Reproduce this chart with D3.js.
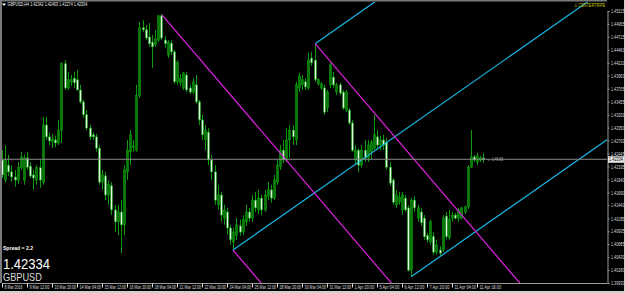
<!DOCTYPE html>
<html><head><meta charset="utf-8">
<script src="https://cdn.jsdelivr.net/npm/d3@7"></script>
<style>html,body{margin:0;padding:0;background:#000;overflow:hidden}text{font-family:"Liberation Sans",Arial,sans-serif}</style>
</head><body>
<svg id="c" width="625" height="293"></svg>
<script>
// ---- data (GBPUSD H4) ----
const openP = [1.4232,1.4193,1.4222,1.4209,1.4199,1.4193,1.4217,1.4193,1.4236,1.4220,1.4203,1.4193,1.4217,1.4189,1.4300,1.4277,1.4267,1.4271,1.4265,1.4290,
1.4419,1.4372,1.4384,1.4391,1.4388,1.4368,1.4345,1.4320,1.4294,1.4281,1.4277,1.4255,1.4189,1.4201,1.4164,1.4182,1.4135,1.4112,1.4131,1.4106,
1.4209,1.4248,1.4257,1.4251,1.4357,1.4489,1.4485,1.4471,1.4461,1.4456,1.4465,1.4512,1.4465,1.4436,1.4459,1.4442,1.4384,1.4382,1.4372,1.4397,
1.4372,1.4364,1.4378,1.4345,1.4310,1.4271,1.4286,1.4232,1.4209,1.4145,1.4164,1.4119,1.4131,1.4100,1.4073,1.4086,1.4104,1.4092,1.4112,1.4131,
1.4119,1.4154,1.4135,1.4158,1.4135,1.4162,1.4174,1.4158,1.4189,1.4220,1.4251,1.4232,1.4271,1.4290,1.4271,1.4372,1.4378,1.4384,1.4372,1.4430,
1.4426,1.4380,1.4372,1.4372,1.4333,1.4378,1.4393,1.4364,1.4378,1.4364,1.4329,1.4329,1.4304,1.4232,1.4251,1.4222,1.4251,1.4236,1.4248,1.4255,
1.4277,1.4261,1.4271,1.4267,1.4218,1.4193,1.4145,1.4150,1.4135,1.4158,1.4139,1.4018,1.4154,1.4119,1.4131,1.4119,1.4085,1.4073,1.4083,1.4053,
1.4057,1.4057,1.4123,1.4081,1.4119,1.4125,1.4119,1.4119,1.4131,1.4141,1.4218,1.4238,1.4228,1.4232,1.4236];
const highP = [1.4251,1.4261,1.4242,1.4222,1.4213,1.4228,1.4248,1.4242,1.4248,1.4228,1.4213,1.4222,1.4232,1.4316,1.4316,1.4286,1.4283,1.4279,1.4310,1.4422,
1.4426,1.4403,1.4397,1.4403,1.4407,1.4378,1.4349,1.4329,1.4300,1.4286,1.4283,1.4261,1.4213,1.4209,1.4193,1.4189,1.4145,1.4145,1.4154,1.4222,
1.4271,1.4290,1.4271,1.4378,1.4500,1.4504,1.4494,1.4498,1.4475,1.4485,1.4514,1.4516,1.4473,1.4465,1.4465,1.4446,1.4426,1.4399,1.4403,1.4403,
1.4378,1.4391,1.4397,1.4349,1.4320,1.4300,1.4294,1.4242,1.4222,1.4184,1.4170,1.4145,1.4139,1.4106,1.4100,1.4119,1.4116,1.4125,1.4145,1.4139,
1.4164,1.4170,1.4174,1.4164,1.4174,1.4189,1.4184,1.4203,1.4232,1.4261,1.4271,1.4294,1.4300,1.4300,1.4384,1.4401,1.4397,1.4391,1.4440,1.4442,
1.4458,1.4391,1.4384,1.4378,1.4368,1.4422,1.4403,1.4382,1.4382,1.4368,1.4368,1.4333,1.4310,1.4261,1.4255,1.4261,1.4271,1.4271,1.4271,1.4320,
1.4290,1.4279,1.4281,1.4275,1.4228,1.4197,1.4174,1.4170,1.4170,1.4164,1.4145,1.4158,1.4162,1.4145,1.4139,1.4125,1.4090,1.4116,1.4092,1.4077,
1.4065,1.4125,1.4131,1.4135,1.4131,1.4129,1.4139,1.4141,1.4143,1.4222,1.4290,1.4242,1.4246,1.4240,1.4246];
const lowP = [1.4197,1.4188,1.4201,1.4189,1.4180,1.4185,1.4213,1.4184,1.4213,1.4197,1.4174,1.4184,1.4178,1.4184,1.4271,1.4261,1.4255,1.4257,1.4261,1.4265,
1.4368,1.4368,1.4376,1.4372,1.4368,1.4341,1.4314,1.4290,1.4271,1.4271,1.4248,1.4184,1.4174,1.4154,1.4145,1.4125,1.4092,1.4086,1.4051,1.4086,
1.4193,1.4222,1.4248,1.4248,1.4353,1.4481,1.4465,1.4452,1.4411,1.4452,1.4461,1.4465,1.4450,1.4430,1.4436,1.4380,1.4378,1.4376,1.4368,1.4364,
1.4360,1.4360,1.4341,1.4300,1.4271,1.4251,1.4222,1.4193,1.4145,1.4135,1.4112,1.4106,1.4086,1.4067,1.4057,1.4077,1.4085,1.4086,1.4104,1.4112,
1.4112,1.4131,1.4127,1.4125,1.4131,1.4154,1.4149,1.4154,1.4184,1.4213,1.4226,1.4228,1.4236,1.4261,1.4261,1.4364,1.4368,1.4368,1.4368,1.4415,
1.4384,1.4376,1.4368,1.4320,1.4325,1.4372,1.4372,1.4358,1.4358,1.4329,1.4325,1.4300,1.4248,1.4222,1.4209,1.4217,1.4228,1.4228,1.4232,1.4251,
1.4251,1.4251,1.4251,1.4213,1.4182,1.4145,1.4139,1.4145,1.4125,1.4131,1.4015,1.4005,1.4131,1.4112,1.4104,1.4077,1.4071,1.4067,1.4048,1.4048,
1.4046,1.4053,1.4077,1.4077,1.4112,1.4116,1.4112,1.4116,1.4127,1.4137,1.4217,1.4228,1.4222,1.4228,1.4226];
const closeP = [1.4203,1.4232,1.4209,1.4199,1.4193,1.4218,1.4238,1.4236,1.4218,1.4201,1.4197,1.4217,1.4193,1.4300,1.4277,1.4269,1.4273,1.4265,1.4290,1.4419,
1.4372,1.4388,1.4388,1.4382,1.4368,1.4345,1.4320,1.4294,1.4277,1.4277,1.4255,1.4189,1.4203,1.4164,1.4184,1.4135,1.4112,1.4131,1.4106,1.4213,
1.4251,1.4281,1.4259,1.4357,1.4489,1.4485,1.4469,1.4458,1.4452,1.4467,1.4512,1.4469,1.4458,1.4461,1.4442,1.4384,1.4422,1.4391,1.4401,1.4368,
1.4364,1.4384,1.4345,1.4310,1.4281,1.4290,1.4232,1.4209,1.4154,1.4164,1.4125,1.4135,1.4100,1.4077,1.4092,1.4106,1.4092,1.4116,1.4131,1.4119,
1.4154,1.4139,1.4158,1.4135,1.4164,1.4174,1.4158,1.4193,1.4222,1.4251,1.4232,1.4271,1.4290,1.4277,1.4378,1.4395,1.4388,1.4374,1.4426,1.4421,
1.4388,1.4388,1.4380,1.4325,1.4364,1.4417,1.4378,1.4378,1.4362,1.4333,1.4364,1.4304,1.4251,1.4251,1.4222,1.4251,1.4236,1.4261,1.4267,1.4281,
1.4261,1.4271,1.4261,1.4218,1.4187,1.4150,1.4164,1.4160,1.4164,1.4135,1.4018,1.4154,1.4139,1.4139,1.4110,1.4083,1.4077,1.4112,1.4053,1.4067,
1.4051,1.4119,1.4083,1.4116,1.4125,1.4119,1.4135,1.4139,1.4141,1.4218,1.4238,1.4232,1.4240,1.4236,1.42334];
const priceTicks = [1.45215,1.44965,1.44715,1.44460,1.44210,1.43960,1.43705,1.43455,1.43200,1.42950,1.42700,1.42445,1.42195,1.41940,1.41690,1.41440,1.41185,1.40935,1.40685,1.40430,1.40180,1.39930];
const dateLabels = ["8 Mar 2016","9 Mar 12:00","10 Mar 20:00","14 Mar 04:00","15 Mar 12:00","16 Mar 20:00","18 Mar 04:00","21 Mar 12:00","22 Mar 20:00","24 Mar 04:00","25 Mar 12:00","28 Mar 20:00","30 Mar 04:00","31 Mar 12:00","1 Apr 20:00","5 Apr 04:00","6 Apr 12:00","7 Apr 20:00","11 Apr 04:00","11 Apr 16:00"];
const dateLabelBars = [0,8,16,24,32,40,48,56,64,72,80,88,96,104,112,120,128,136,144,152];
// channel lines: [bar, price] anchors, slope in price per bar
const cyanAnchors = [[73.9,1.4057],[100.2,1.4458],[130.9,1.4005]];
const cyanSlope = 0.000425;
const magentaAnchors = [[51.2,1.4514],[73.9,1.4057],[100.2,1.4458]];
const magentaSlope = -0.000710;
const lastPrice = 1.42334;
const header = "GBPUSD,H4  1.42342 1.42403 1.42274 1.42334";
const spreadText = "Spread = 2.2";
const symbol = "GBPUSD";
const warnText = "CENTERTRIPE";
const lineLabel = "\u2190 1.46.66";

// ---- layout ----
const W=625,H=293, L=2, R=607, T=2, B=283;
const svg=d3.select("#c");
svg.append("rect").attr("width",W).attr("height",H).attr("fill","#000");
const x=d3.scaleLinear().domain([0,154]).range([2,483.25]);
const y=d3.scaleLinear().domain([1.39930,1.45215]).range([283,11]);

// squeeze a text horizontally to a target width (about its own x anchor)
function fit(sel,target){
  sel.each(function(){
    const t=d3.select(this), w=this.getComputedTextLength(), tw=(typeof target==="function")?target(this):target;
    const s=Math.min(1,tw/w), x0=+t.attr("x")||0;
    t.attr("transform",`translate(${x0},0) scale(${s},1) translate(${-x0},0)`);
  });
}

svg.append("defs").append("clipPath").attr("id","plot").append("rect")
  .attr("x",L).attr("y",T).attr("width",R-L).attr("height",B-T);
const g=svg.append("g").attr("clip-path","url(#plot)");

const bars=d3.range(openP.length);
const green="#0c9c0c";
g.selectAll("line.w").data(bars).join("line")
  .attr("x1",i=>Math.round(x(i))+0.5).attr("x2",i=>Math.round(x(i))+0.5)
  .attr("y1",i=>y(highP[i])).attr("y2",i=>y(lowP[i]))
  .attr("stroke",green).attr("stroke-width",1);
g.selectAll("rect.b").data(bars).join("rect")
  .attr("x",i=>Math.round(x(i))-0.5).attr("width",2)
  .attr("y",i=>y(Math.max(openP[i],closeP[i])))
  .attr("height",i=>Math.max(1,Math.abs(y(openP[i])-y(closeP[i]))))
  .attr("fill",i=>closeP[i]>=openP[i]?"#087a08":"#dff7df")
  .attr("stroke",green).attr("stroke-width",0.6);

const xEnd=x.invert(R+5);
function drawLines(anchors,slope,color){
  g.selectAll(null).data(anchors).join("line")
   .attr("x1",d=>x(d[0])).attr("y1",d=>y(d[1]))
   .attr("x2",x(xEnd)).attr("y2",d=>y(d[1]+slope*(xEnd-d[0])))
   .attr("stroke",color).attr("stroke-width",1.2);
}
drawLines(cyanAnchors,cyanSlope,"#1ab8e8");
drawLines(magentaAnchors,magentaSlope,"#e020e0");

g.append("line").attr("x1",L).attr("x2",R).attr("y1",y(lastPrice)).attr("y2",y(lastPrice))
  .attr("stroke","#8a8a8a").attr("stroke-width",1);
fit(g.append("text").attr("x",x(154)+4).attr("y",y(lastPrice)+1.8).attr("fill","#aaa")
  .attr("font-size",5).text(lineLabel),16);

// frame
svg.append("rect").attr("x",0).attr("y",0).attr("width",2).attr("height",B).attr("fill","#7a7a7a");
svg.append("rect").attr("x",0).attr("y",0).attr("width",R).attr("height",1.5).attr("fill","#7a7a7a");

// price axis
const ya=svg.append("g").attr("transform",`translate(${R+0.5},0)`)
  .call(d3.axisRight(y).tickValues(priceTicks).tickFormat(d3.format(".5f")).tickSize(2).tickPadding(1.5));
ya.select(".domain").attr("stroke","#9a9a9a");
ya.selectAll(".tick line").attr("stroke","#9a9a9a");
ya.selectAll("text").attr("fill","#ddd").attr("font-size",5).attr("font-family","Liberation Sans, Arial");
fit(ya.selectAll("text"),13.5);
// date axis
const xa=svg.append("g").attr("transform",`translate(0,${B+0.5})`)
  .call(d3.axisBottom(x).tickValues(dateLabelBars).tickFormat((d,i)=>dateLabels[i]).tickSize(4));
xa.select(".domain").attr("stroke","#9a9a9a").attr("d",`M${L},0H${R}`);
xa.selectAll(".tick line").attr("stroke","#ddd");
xa.selectAll("text").attr("fill","#ddd").attr("font-size",5).attr("text-anchor","start")
  .attr("x",2).attr("y",1.8).attr("font-family","Liberation Sans, Arial");
fit(xa.selectAll("text"),el=>el.textContent.length*1.8);

// current price box
svg.append("rect").attr("x",R+1).attr("y",y(lastPrice)-3).attr("width",17).attr("height",6.5).attr("fill","#e8e8e8");
fit(svg.append("text").attr("x",R+2).attr("y",y(lastPrice)+1.8).attr("fill","#000").attr("font-size",5)
  .text(d3.format(".5f")(lastPrice)),14);

// header texts
svg.append("path").attr("d","M2,3.5 L6,3.5 L4,6 Z").attr("fill","#fff");
fit(svg.append("text").attr("x",7.5).attr("y",6.5).attr("fill","#eee").attr("font-size",5).text(header),80);
fit(svg.append("text").attr("x",574).attr("y",7.5).attr("fill","#c8c800").attr("font-size",5).text("\u26A0 "+warnText),31);
fit(svg.append("text").attr("x",3).attr("y",250).attr("fill","#fff").attr("font-size",6).attr("font-weight","bold").text(spreadText),30);
fit(svg.append("text").attr("x",3).attr("y",269).attr("fill","#fff").attr("font-size",15).text(d3.format(".5f")(lastPrice)),47);
fit(svg.append("text").attr("x",3).attr("y",281).attr("fill","#ddd").attr("font-size",10).text(symbol),39);
// outer frame right/bottom
svg.append("rect").attr("x",624).attr("y",0).attr("width",1).attr("height",H).attr("fill","#d0d0d0");
svg.append("rect").attr("x",0).attr("y",291).attr("width",W).attr("height",2).attr("fill","#d0d0d0");
</script>
</body></html>
